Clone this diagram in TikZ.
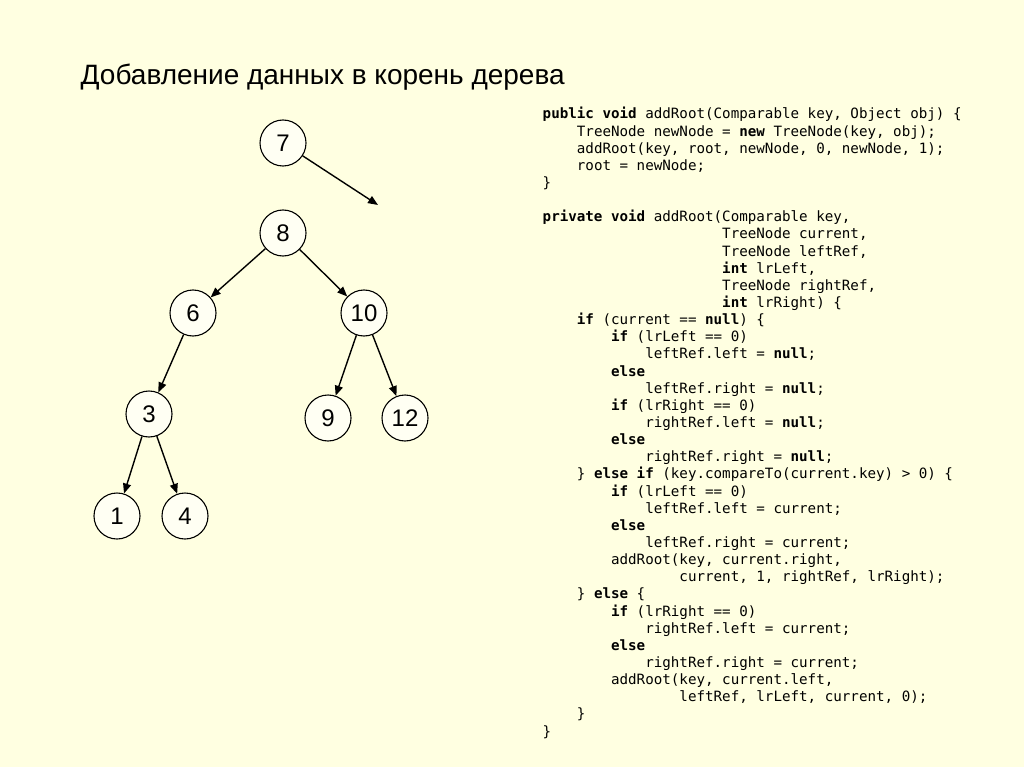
\documentclass[tikz,border=0pt]{standalone}
\usepackage{fontspec}
\setmainfont{Liberation Sans}
\newfontfamily\codefont{DejaVu Sans Mono}
\usetikzlibrary{arrows.meta}
\definecolor{slidebg}{RGB}{255,255,225}
\definecolor{keyfill}{RGB}{255,255,243}
\newcommand\kw[1]{\textbf{#1}}
\newcommand\ind[1]{\hspace*{#1\fontcharwd\font`x}}

\begin{document}
\begin{tikzpicture}[x=1pt, y=-1pt, ->, >={Triangle[length=10pt, width=8pt]}, line width=1.4pt,
   key/.style={circle, draw, fill=keyfill, minimum size=46pt, inner sep=0pt,
     line width=1.1pt, font=\fontsize{24}{28}\selectfont},
   code/.style={anchor=base west, align=left, inner sep=0pt,
     font=\codefont\fontsize{14.2}{17.14}\selectfont}]
  \fill[slidebg] (0,0) rectangle (1024,767);
  \useasboundingbox (0,0) rectangle (1024,767);
  \node[anchor=base west, inner sep=0pt, font=\fontsize{28}{33}\selectfont] (title) at (80,85)
    {Добавление данных в корень дерева};
  % tree
  \node[key] (k7)  at (283,143) {7};
  \node[key] (k8)  at (283,233) {8};
  \node[key] (k6)  at (193,313) {6};
  \node[key] (k10) at (364,313) {10};
  \node[key] (k3)  at (149,414) {3};
  \node[key] (k9)  at (328,418) {9};
  \node[key] (k12) at (405,418) {12};
  \node[key] (k1)  at (117,516) {1};
  \node[key] (k4)  at (185,516) {4};
  \coordinate (newpos) at (378,205);
  \draw (k7) -- (newpos);
  \draw (k8) -- (k6);
  \draw (k8) -- (k10);
  \draw (k6) -- (k3);
  \draw (k10) -- (k9);
  \draw (k10) -- (k12);
  \draw (k3) -- (k1);
  \draw (k3) -- (k4);
  % code (placed by the baseline of its last line)
  \node[code] (src) at (542,736) {%
\kw{public} \kw{void} addRoot(Comparable key, Object obj) \{\\
\ind{4}TreeNode newNode = \kw{new} TreeNode(key, obj);\\
\ind{4}addRoot(key, root, newNode, 0, newNode, 1);\\
\ind{4}root = newNode;\\
\}\\
\mbox{}\\
\kw{private} \kw{void} addRoot(Comparable key,\\
\ind{21}TreeNode current,\\
\ind{21}TreeNode leftRef,\\
\ind{21}\kw{int} lrLeft,\\
\ind{21}TreeNode rightRef,\\
\ind{21}\kw{int} lrRight) \{\\
\ind{4}\kw{if} (current == \kw{null}) \{\\
\ind{8}\kw{if} (lrLeft == 0)\\
\ind{12}leftRef.left = \kw{null};\\
\ind{8}\kw{else}\\
\ind{12}leftRef.right = \kw{null};\\
\ind{8}\kw{if} (lrRight == 0)\\
\ind{12}rightRef.left = \kw{null};\\
\ind{8}\kw{else}\\
\ind{12}rightRef.right = \kw{null};\\
\ind{4}\} \kw{else} \kw{if} (key.compareTo(current.key) > 0) \{\\
\ind{8}\kw{if} (lrLeft == 0)\\
\ind{12}leftRef.left = current;\\
\ind{8}\kw{else}\\
\ind{12}leftRef.right = current;\\
\ind{8}addRoot(key, current.right,\\
\ind{16}current, 1, rightRef, lrRight);\\
\ind{4}\} \kw{else} \{\\
\ind{8}\kw{if} (lrRight == 0)\\
\ind{12}rightRef.left = current;\\
\ind{8}\kw{else}\\
\ind{12}rightRef.right = current;\\
\ind{8}addRoot(key, current.left,\\
\ind{16}leftRef, lrLeft, current, 0);\\
\ind{4}\}\\
\}};
\end{tikzpicture}
\end{document}
